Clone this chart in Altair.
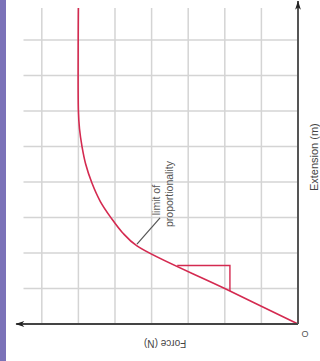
import altair as alt
import pandas as pd

# ---- data (grid units) ----
curve_force = [0.0, 2.0, 4.4, 4.8, 5.1, 5.4, 5.63, 5.8, 5.9, 5.97, 6.0, 6.0]
curve_ext = [0.0, 1.0, 2.2, 2.58, 2.98, 3.45, 3.97, 4.5, 4.99, 5.5, 6.0, 8.9]

tri_force = [1.86, 1.86, 3.3]
tri_ext = [0.93, 1.65, 1.65]

vgrid_force = [1, 2, 3, 4, 5, 6, 7]
hgrid_ext = [1, 2, 3, 4, 5, 6, 7, 8]
grid_force_max = 7.5
grid_ext_max = 8.9

leader_force = [4.4, 3.77]
leader_ext = [2.25, 2.99]

labels_text = ["limit of", "proportionality"]
labels_force = [3.85, 3.50]
labels_ext = [3.49, 3.66]

W, H = 320, 361
xs = alt.Scale(domain=[-0.601, 8.142], reverse=True)
ys = alt.Scale(domain=[-1.042, 9.127])

def X(field="F", **kw):
    return alt.X(field, type="quantitative", scale=xs, axis=None, **kw)

def Y(field="E", **kw):
    return alt.Y(field, type="quantitative", scale=ys, axis=None, **kw)

bar = alt.Chart(pd.DataFrame({"a": [0]})).mark_rect(color="#7b72b8").encode(
    x=alt.value(0), x2=alt.value(6), y=alt.value(0), y2=alt.value(H)
)

vgrid = alt.Chart(pd.DataFrame({"F": vgrid_force, "E0": 0.0, "E1": grid_ext_max})).mark_rule(
    color="#d4d4d4", strokeWidth=1.5
).encode(x=X(), y=Y("E0"), y2="E1")

hgrid = alt.Chart(pd.DataFrame({"E": hgrid_ext, "F0": 0.0, "F1": grid_force_max})).mark_rule(
    color="#d4d4d4", strokeWidth=1.5
).encode(y=Y(), x=X("F0"), x2="F1")

xaxis = alt.Chart(pd.DataFrame({"E": [0.0], "F0": [0.0], "F1": [7.7]})).mark_rule(
    color="#444", strokeWidth=2
).encode(y=Y(), x=X("F0"), x2="F1")

yaxis = alt.Chart(pd.DataFrame({"F": [0.0], "E0": [0.0], "E1": [9.1]})).mark_rule(
    color="#555", strokeWidth=2
).encode(x=X(), y=Y("E0"), y2="E1")

arrow_left = alt.Chart(pd.DataFrame({"F": [7.6], "E": [0.0]})).mark_point(
    shape="M-1,0 L1,-0.65 L0.45,0 L1,0.65 Z", filled=True, color="#222", size=80, opacity=1
).encode(x=X(), y=Y())

arrow_up = alt.Chart(pd.DataFrame({"F": [0.0], "E": [8.98]})).mark_point(
    shape="M0,-1 L-0.65,1 L0,0.45 L0.65,1 Z", filled=True, color="#222", size=80, opacity=1
).encode(x=X(), y=Y())

curve = alt.Chart(pd.DataFrame({"F": curve_force, "E": curve_ext, "o": range(len(curve_force))})).mark_line(
    color="#d42a50", strokeWidth=1.6, interpolate="catmull-rom"
).encode(x=X(), y=Y(), order="o:Q")

tri = alt.Chart(pd.DataFrame({"F": tri_force, "E": tri_ext, "o": range(len(tri_force))})).mark_line(
    color="#d42a50", strokeWidth=1.4
).encode(x=X(), y=Y(), order="o:Q")

leader = alt.Chart(pd.DataFrame({"F": [leader_force[0]], "E": [leader_ext[0]],
                                 "F2": [leader_force[1]], "E2": [leader_ext[1]]})).mark_rule(
    color="#555", strokeWidth=1.2
).encode(x=X(), y=Y(), x2="F2", y2="E2")

ann = alt.Chart(pd.DataFrame({"t": labels_text, "F": labels_force, "E": labels_ext})).mark_text(
    angle=270, fontSize=10.5, font="Liberation Sans", color="#555", align="center", baseline="middle"
).encode(x=X(), y=Y(), text="t:N")

xlab = alt.Chart(pd.DataFrame({"t": ["Force (N)"], "F": [3.63], "E": [-0.535]})).mark_text(
    angle=180, fontSize=10, font="Liberation Sans", color="#444", align="center", baseline="middle"
).encode(x=X(), y=Y(), text="t:N")

ylab = alt.Chart(pd.DataFrame({"t": ["Extension (m)"], "F": [-0.46], "E": [4.70]})).mark_text(
    angle=270, fontSize=11, font="Liberation Sans", color="#444", align="center", baseline="middle"
).encode(x=X(), y=Y(), text="t:N")

olab = alt.Chart(pd.DataFrame({"t": ["O"], "F": [-0.19], "E": [-0.28]})).mark_text(
    fontSize=9, font="Liberation Sans", color="#555", align="center", baseline="middle"
).encode(x=X(), y=Y(), text="t:N")

chart = alt.layer(
    bar, vgrid, hgrid, curve, tri, leader, xaxis, yaxis, arrow_left, arrow_up, ann, xlab, ylab, olab
).properties(
    width=W, height=H, padding=0, autosize=alt.AutoSizeParams(type="none"), background="white"
).configure_view(stroke=None)

chart.save("out.html", embed_options={"renderer": "svg", "actions": False})
